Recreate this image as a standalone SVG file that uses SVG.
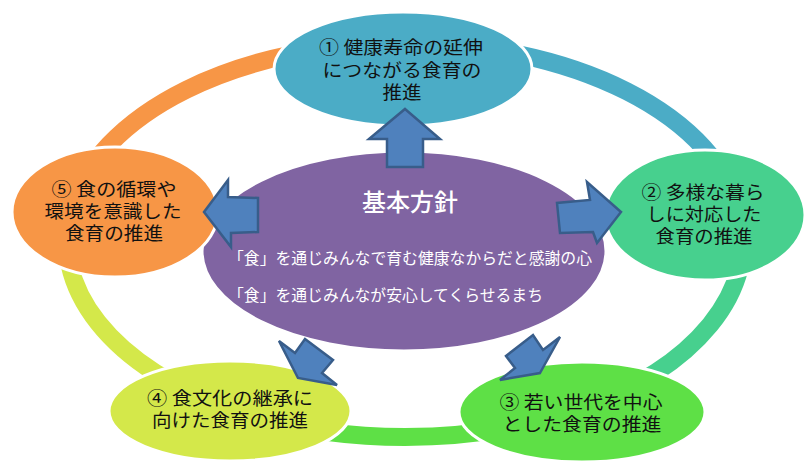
<svg xmlns="http://www.w3.org/2000/svg" width="812" height="469" viewBox="0 0 812 469">
<style>
.ring{fill:none;stroke-width:18}
.node{stroke:#ffffff;stroke-width:3}
.lbl{font-family:"Noto Sans CJK JP","Noto Sans",sans-serif;font-size:18px;fill:#111111;text-anchor:middle}
.ctr{font-family:"Noto Sans CJK JP","Noto Sans",sans-serif;fill:#ffffff}
.arrow{fill:#4f81bd;stroke:#385d8a;stroke-width:2.5;stroke-linejoin:miter}
</style>
<rect width="812" height="469" fill="#ffffff"/>
<g id="ring">
<path class="ring" stroke="#f79646" d="M71.5,207.8 A338,197 0 0 1 405,43"/>
<path class="ring" stroke="#4bacc6" d="M405,43 A338,197 0 0 1 739.7,212.6"/>
<path class="ring" stroke="#47d08e" d="M739.7,212.6 A338,197 0 0 1 579.1,408.9"/>
<path class="ring" stroke="#5ee046" d="M579.1,408.9 A338,197 0 0 1 230.9,408.9"/>
<path class="ring" stroke="#d4e84a" d="M230.9,408.9 A338,197 0 0 1 71.5,207.8"/>
</g>
<g id="center">
<ellipse class="node" cx="404" cy="251" rx="202" ry="100" fill="#8064a2"/>
<text class="ctr" x="410" y="211" font-size="24" font-weight="500" text-anchor="middle">基本方針</text>
<text class="ctr" x="228" y="264" font-size="16" textLength="364" lengthAdjust="spacingAndGlyphs">「食」を通じみんなで育む健康なからだと感謝の心</text>
<text class="ctr" x="228" y="301" font-size="16" textLength="315" lengthAdjust="spacingAndGlyphs">「食」を通じみんなが安心してくらせるまち</text>
</g>
<g id="node1">
<ellipse class="node" cx="403" cy="69" rx="129" ry="57" fill="#4bacc6"/>
<text class="lbl" x="401" y="54" textLength="164" lengthAdjust="spacingAndGlyphs">① 健康寿命の延伸</text>
<text class="lbl" x="402" y="76.5" textLength="159" lengthAdjust="spacingAndGlyphs">につながる食育の</text>
<text class="lbl" x="402" y="99" textLength="39" lengthAdjust="spacingAndGlyphs">推進</text>
</g>
<g id="node2">
<ellipse class="node" cx="705" cy="215" rx="100" ry="65" fill="#47d08e"/>
<text class="lbl" x="703" y="199" textLength="123" lengthAdjust="spacingAndGlyphs">② 多様な暮ら</text>
<text class="lbl" x="704" y="221" textLength="115" lengthAdjust="spacingAndGlyphs">しに対応した</text>
<text class="lbl" x="704" y="243" textLength="97" lengthAdjust="spacingAndGlyphs">食育の推進</text>
</g>
<g id="node3">
<ellipse class="node" cx="582" cy="412" rx="123" ry="50" fill="#5ee046"/>
<text class="lbl" x="581" y="409" textLength="163" lengthAdjust="spacingAndGlyphs">③ 若い世代を中心</text>
<text class="lbl" x="582" y="431" textLength="159" lengthAdjust="spacingAndGlyphs">とした食育の推進</text>
</g>
<g id="node4">
<ellipse class="node" cx="230" cy="411" rx="121" ry="50" fill="#d4e84a"/>
<text class="lbl" x="230" y="405" textLength="166" lengthAdjust="spacingAndGlyphs">④ 食文化の継承に</text>
<text class="lbl" x="230" y="427" textLength="156" lengthAdjust="spacingAndGlyphs">向けた食育の推進</text>
</g>
<g id="node5">
<ellipse class="node" cx="115" cy="212" rx="103" ry="65" fill="#f79646"/>
<text class="lbl" x="114" y="196" textLength="125" lengthAdjust="spacingAndGlyphs">⑤ 食の循環や</text>
<text class="lbl" x="113" y="218" textLength="137" lengthAdjust="spacingAndGlyphs">環境を意識した</text>
<text class="lbl" x="114" y="240" textLength="98" lengthAdjust="spacingAndGlyphs">食育の推進</text>
</g>
<g id="connectors">
<polygon class="arrow" points="405,109 440,139 423,139 423,167 387,167 387,139 369,139"/>
<polygon class="arrow" points="204,212 228,180 228,197 258,198 258,232 231,233 231,247"/>
<polygon class="arrow" points="621,212 587,182 590,200 557,203 560,233 593,232 597,243"/>
<polygon class="arrow" points="298,378 279,341 295,353 305,339 333,360 322,373 337,385"/>
<polygon class="arrow" points="540,373 560,337 543,350 533,335 506,356 515,368 500,380"/>
</g>
</svg>
